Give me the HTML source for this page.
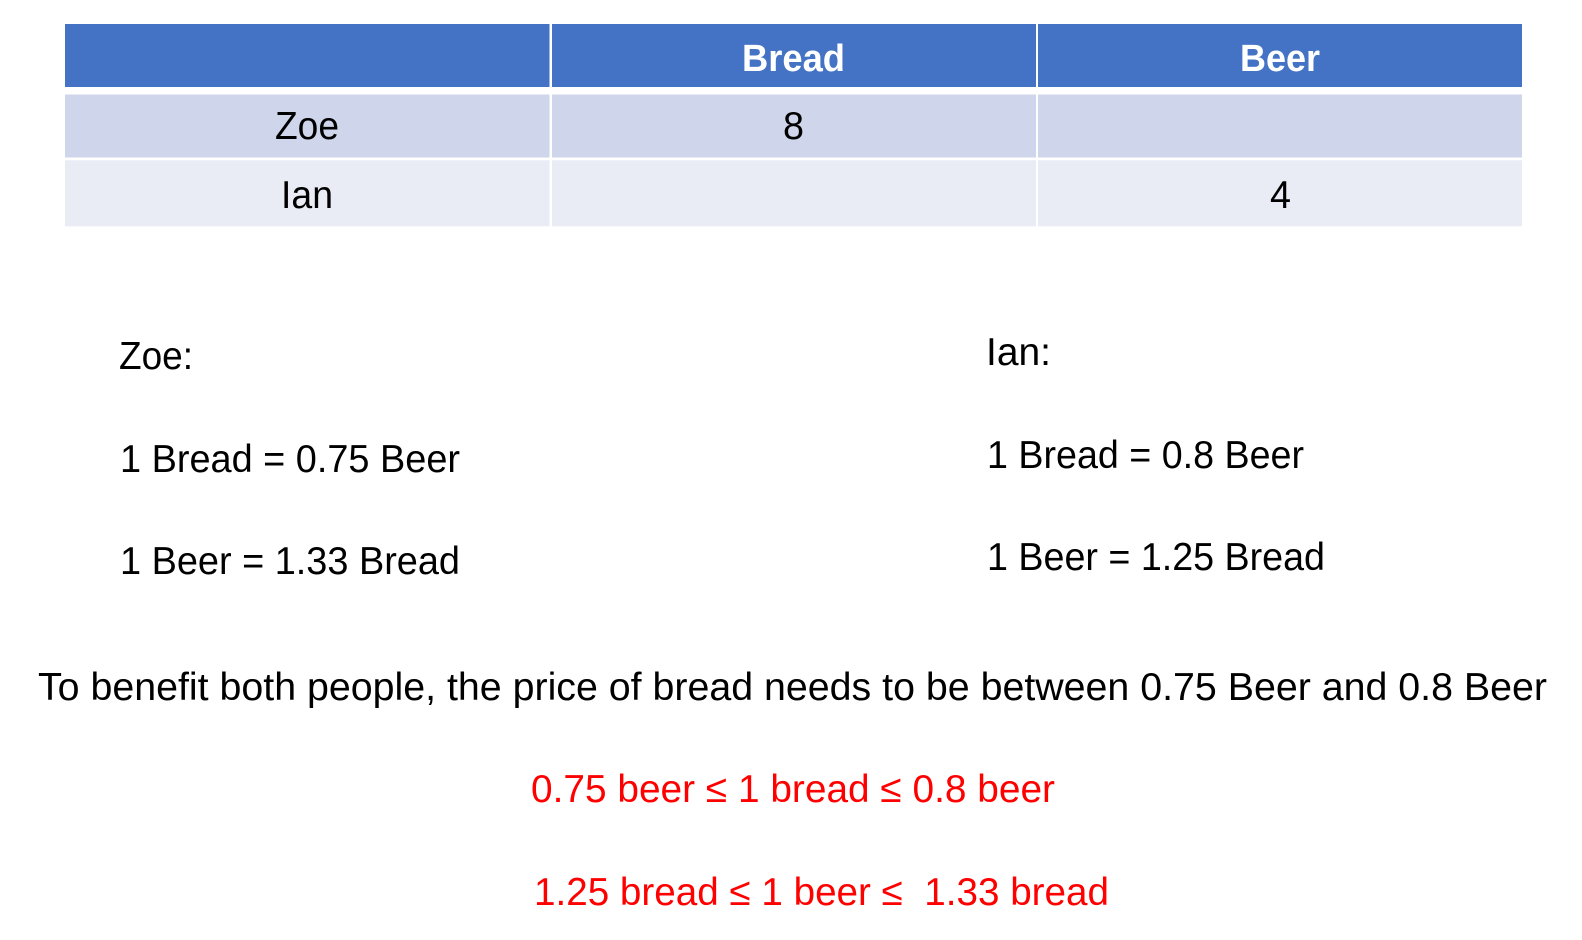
<!DOCTYPE html>
<html lang="en">
<head>
<meta charset="utf-8">
<title>Zoe and Ian: bread and beer trade</title>
<style>
  html, body { margin: 0; padding: 0; background: #fff; width: 1582px; height: 940px; overflow: hidden; }
  svg { display: block; }
  text { font-family: "Liberation Sans", sans-serif; font-size: 39px; fill: #000; }
  .head { font-weight: bold; fill: #fff; font-size: 38px; }
  .red { fill: #ff0000; }
</style>
</head>
<body>
<svg width="1582" height="940" viewBox="0 0 1582 940" xmlns="http://www.w3.org/2000/svg">
  <g>
    <rect x="65" y="24" width="484.5" height="63" fill="#4472c4"/>
    <rect x="552" y="24" width="484" height="63" fill="#4472c4"/>
    <rect x="1038" y="24" width="484" height="63" fill="#4472c4"/>
    <rect x="65" y="94.5" width="484.5" height="63" fill="#cfd5ea"/>
    <rect x="552" y="94.5" width="484" height="63" fill="#cfd5ea"/>
    <rect x="1038" y="94.5" width="484" height="63" fill="#cfd5ea"/>
    <rect x="65" y="160.3" width="484.5" height="66" fill="#e9ebf5"/>
    <rect x="552" y="160.3" width="484" height="66" fill="#e9ebf5"/>
    <rect x="1038" y="160.3" width="484" height="66" fill="#e9ebf5"/>
    <text class="head" x="742" y="71" textLength="103" lengthAdjust="spacingAndGlyphs">Bread</text>
    <text class="head" x="1240" y="71" textLength="80" lengthAdjust="spacingAndGlyphs">Beer</text>
    <text x="275" y="139" textLength="64" lengthAdjust="spacingAndGlyphs">Zoe</text>
    <text x="783" y="139" textLength="21" lengthAdjust="spacingAndGlyphs">8</text>
    <text x="281" y="208" textLength="52" lengthAdjust="spacingAndGlyphs">Ian</text>
    <text x="1270" y="208" textLength="21" lengthAdjust="spacingAndGlyphs">4</text>
  </g>

  <g>
    <text x="119" y="369" textLength="74" lengthAdjust="spacingAndGlyphs">Zoe:</text>
    <text x="120" y="472" textLength="340" lengthAdjust="spacingAndGlyphs">1 Bread = 0.75 Beer</text>
    <text x="120" y="574" textLength="340" lengthAdjust="spacingAndGlyphs">1 Beer = 1.33 Bread</text>
  </g>

  <g>
    <text x="986" y="365" textLength="65" lengthAdjust="spacingAndGlyphs">Ian:</text>
    <text x="987" y="468" textLength="317" lengthAdjust="spacingAndGlyphs">1 Bread = 0.8 Beer</text>
    <text x="987" y="570" textLength="338" lengthAdjust="spacingAndGlyphs">1 Beer = 1.25 Bread</text>
  </g>

  <text x="38" y="700" textLength="1509" lengthAdjust="spacingAndGlyphs">To benefit both people, the price of bread needs to be between 0.75 Beer and 0.8 Beer</text>
  <text class="red" x="531" y="802" textLength="524" lengthAdjust="spacingAndGlyphs">0.75 beer ≤ 1 bread ≤ 0.8 beer</text>
  <text class="red" x="534" y="905" textLength="575" lengthAdjust="spacingAndGlyphs" xml:space="preserve" style="white-space:pre">1.25 bread ≤ 1 beer ≤  1.33 bread</text>
</svg>
</body>
</html>
